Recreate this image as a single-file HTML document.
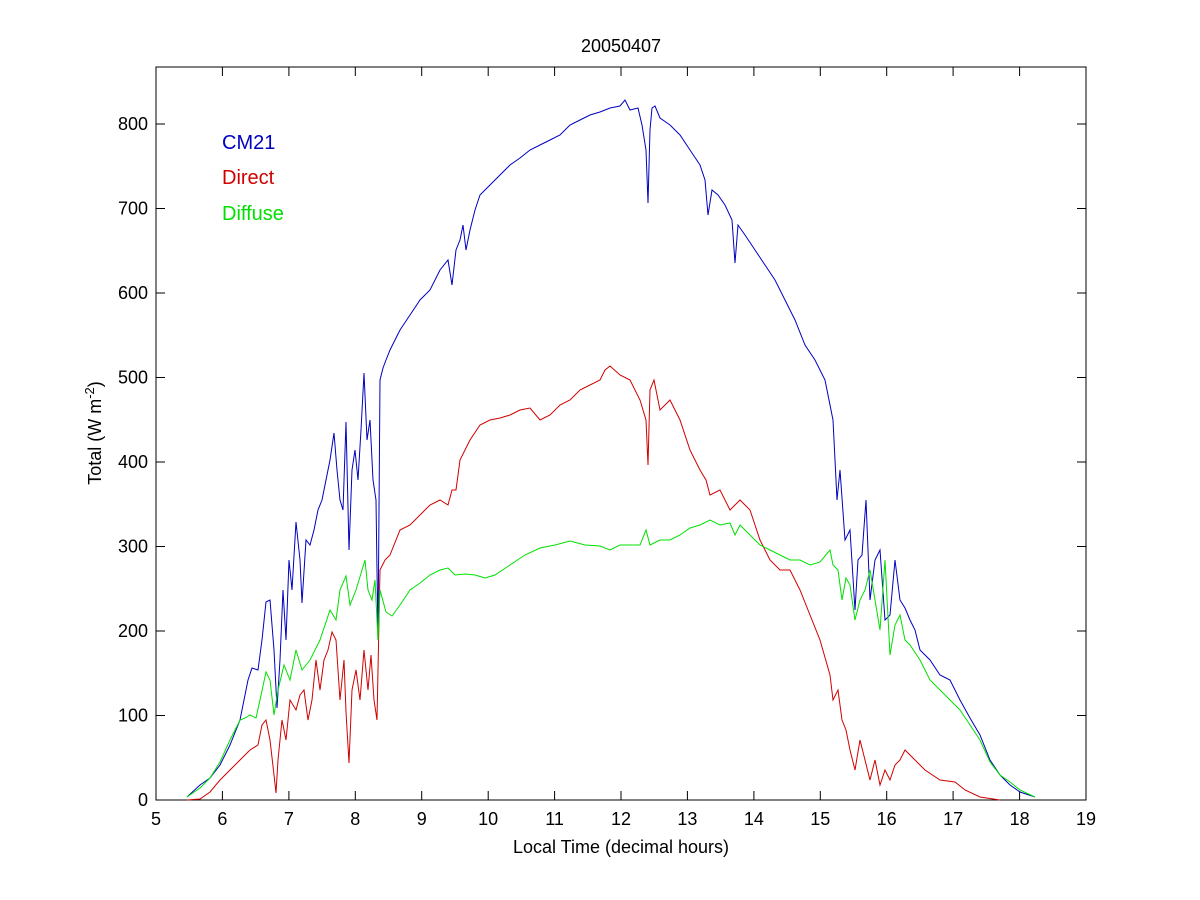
<!DOCTYPE html>
<html><head><meta charset="utf-8"><style>body{margin:0;background:#fff}svg{display:block}text{font-family:"Liberation Sans",sans-serif;font-size:18px;fill:#000}</style></head>
<body><svg width="1200" height="900" xmlns="http://www.w3.org/2000/svg">
<rect width="1200" height="900" fill="#fff"/>
<rect x="156" y="67" width="930" height="733" fill="#fff" stroke="#000" stroke-width="1"/>
<g stroke="#000" stroke-width="1">
<path d="M156,800v-9M222.4,800v-9M288.9,800v-9M355.3,800v-9M421.7,800v-9M488.2,800v-9M554.6,800v-9M621,800v-9M687.4,800v-9M753.9,800v-9M820.3,800v-9M886.7,800v-9M953.1,800v-9M1019.6,800v-9M1086,800v-9
M156,67v9M222.4,67v9M288.9,67v9M355.3,67v9M421.7,67v9M488.2,67v9M554.6,67v9M621,67v9M687.4,67v9M753.9,67v9M820.3,67v9M886.7,67v9M953.1,67v9M1019.6,67v9M1086,67v9
M156,800h9M156,715.5h9M156,631h9M156,546.5h9M156,462h9M156,377.5h9M156,293h9M156,208.5h9M156,124h9
M1086,800h-9M1086,715.5h-9M1086,631h-9M1086,546.5h-9M1086,462h-9M1086,377.5h-9M1086,293h-9M1086,208.5h-9M1086,124h-9"/>
</g>
<g text-anchor="middle">
<text x="156" y="825">5</text><text x="222.4" y="825">6</text><text x="288.9" y="825">7</text><text x="355.3" y="825">8</text><text x="421.7" y="825">9</text><text x="488.2" y="825">10</text><text x="554.6" y="825">11</text><text x="621" y="825">12</text><text x="687.4" y="825">13</text><text x="753.9" y="825">14</text><text x="820.3" y="825">15</text><text x="886.7" y="825">16</text><text x="953.1" y="825">17</text><text x="1019.6" y="825">18</text><text x="1086" y="825">19</text>
<text x="621" y="853">Local Time (decimal hours)</text>
<text x="621" y="52">20050407</text>
</g>
<g text-anchor="end">
<text x="148" y="806">0</text><text x="148" y="721.5">100</text><text x="148" y="637">200</text><text x="148" y="552.5">300</text><text x="148" y="468">400</text><text x="148" y="383.5">500</text><text x="148" y="299">600</text><text x="148" y="214.5">700</text><text x="148" y="130">800</text>
</g>
<text transform="translate(101,433) rotate(-90)" text-anchor="middle">Total (W m<tspan dy="-7" font-size="13">-2</tspan><tspan dy="7">)</tspan></text>
<text x="222" y="149" style="fill:#0000c0;font-size:20px">CM21</text>
<text x="222" y="184" style="fill:#d00000;font-size:20px">Direct</text>
<text x="222" y="220" style="fill:#00e000;font-size:20px">Diffuse</text>
<polyline fill="none" stroke="#0000c0" stroke-width="1" points="187,797 200,785 210,778 220,765 230,745 240,720 248,680 252,668 258,670 262,640 266,602 270,600 274,650 277,708 280,660 283,590 286,640 289,560 292,590 296,522 300,560 302,603 306,540 310,545 314,530 318,510 322,500 326,480 330,460 334,433 337,470 340,500 343,510 346,422 349,550 352,470 355,450 358,480 361,430 364,373 367,440 370,420 373,480 376,500 378,640 380,380 383,368 386,360 390,350 400,330 410,315 420,300 430,290 440,270 448,260 452,285 456,250 460,240 463,225 466,250 470,230 475,210 480,195 490,185 500,175 510,165 520,158 530,150 540,145 550,140 560,135 570,125 580,120 590,115 600,112 610,108 620,106 625,100 630,110 638,108 642,125 646,150 648,203 650,130 652,108 655,106 660,118 670,125 680,135 690,150 700,165 705,180 708,215 712,190 718,195 725,205 732,220 735,263 738,225 745,235 755,250 765,265 775,280 785,300 795,320 805,345 815,360 825,380 830,405 833,420 837,500 840,470 845,540 850,530 855,610 858,560 862,555 866,500 870,600 875,560 880,550 885,620 890,615 895,560 900,600 905,608 910,620 915,630 920,650 930,660 940,675 950,680 960,700 970,718 980,735 990,760 1000,775 1010,785 1020,792 1035,797"/>
<polyline fill="none" stroke="#d00000" stroke-width="1" points="187,800 200,799 210,792 220,780 230,770 240,760 250,750 258,745 262,725 266,720 270,740 274,775 276,793 278,760 282,720 286,740 290,700 296,710 300,695 304,690 308,720 312,700 316,660 320,690 324,660 328,650 332,632 336,640 340,700 344,660 346,712 349,763 352,690 356,670 360,700 364,650 368,690 371,655 374,700 377,720 380,570 385,560 390,555 400,530 410,525 420,515 430,505 440,500 448,505 452,490 456,490 460,460 470,440 480,425 490,420 500,418 510,415 520,410 530,408 540,420 550,415 560,405 570,400 580,390 590,385 600,380 605,370 610,366 620,375 630,380 640,400 646,420 648,465 650,390 654,380 660,410 670,400 675,410 680,420 690,450 700,470 706,480 710,495 720,490 730,510 735,505 740,500 750,510 760,540 770,560 780,570 790,570 800,590 810,615 820,640 830,675 833,700 838,690 842,720 846,730 850,750 855,770 860,740 865,760 870,780 875,760 880,785 885,770 890,780 895,765 900,760 905,750 910,755 915,760 925,770 940,780 955,782 965,790 980,797 1000,800"/>
<polyline fill="none" stroke="#00e000" stroke-width="1" points="187,797 200,788 210,778 220,762 230,740 240,720 245,718 250,715 256,718 260,700 266,672 270,680 274,715 278,690 284,665 290,680 296,650 302,670 310,660 320,640 330,610 336,620 340,590 346,576 350,605 356,590 362,570 365,560 368,590 372,600 375,580 378,640 380,590 386,612 392,616 400,605 410,590 420,583 430,575 440,570 448,568 455,575 465,574 475,575 485,578 495,575 510,565 525,555 540,548 555,545 570,541 585,545 600,546 610,550 620,545 630,545 640,545 646,530 650,545 660,540 670,540 680,535 690,528 700,525 710,520 720,525 730,523 735,535 740,525 750,535 760,545 770,550 780,555 790,560 800,560 810,565 820,562 830,550 833,565 838,570 842,600 846,578 850,585 855,620 860,600 865,590 870,570 875,600 880,630 885,560 890,655 895,625 900,615 905,640 910,645 920,660 930,680 940,690 950,700 960,710 970,725 980,740 990,762 1000,775 1010,782 1020,790 1035,797"/>
</svg></body></html>
